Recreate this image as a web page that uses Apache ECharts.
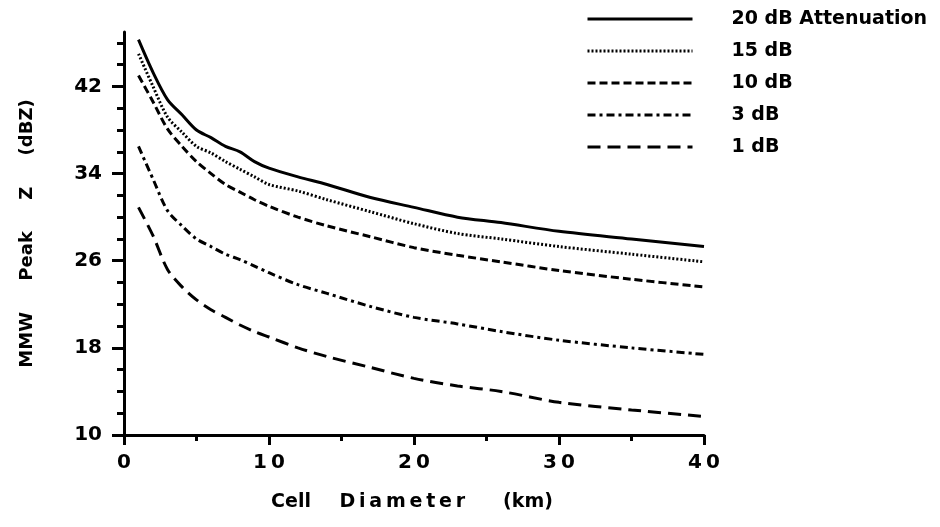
<!DOCTYPE html>
<html>
<head>
<meta charset="utf-8">
<script src="https://cdn.jsdelivr.net/npm/echarts@6/dist/echarts.min.js"></script>
<style>
  html, body { margin: 0; background: #fff; }
  #main { width: 940px; height: 527px; }
</style>
</head>
<body>
<div id="main"></div>
<script>
// cell diameter (km)
var diameter = [1, 2, 3, 4, 5, 6, 7, 8, 9, 10, 12, 14, 17, 20, 23, 26, 30, 35, 40];
// MMW peak Z (dBZ) per attenuation
var att20 = [46.3, 43.3, 40.8, 39.4, 38.0, 37.3, 36.5, 36.0, 35.1, 34.5, 33.7, 33.0, 31.8, 30.9, 30.0, 29.5, 28.7, 28.0, 27.3];
var att15 = [45.0, 42.0, 39.2, 37.8, 36.5, 35.9, 35.1, 34.4, 33.7, 33.0, 32.4, 31.6, 30.5, 29.4, 28.5, 28.0, 27.3, 26.6, 25.9];
var att10 = [43.0, 40.6, 38.1, 36.5, 35.1, 34.0, 33.0, 32.3, 31.6, 31.0, 30.0, 29.2, 28.2, 27.2, 26.5, 25.9, 25.1, 24.3, 23.6];
var att3  = [36.5, 33.5, 30.6, 29.2, 28.0, 27.3, 26.6, 26.1, 25.5, 24.9, 23.8, 23.0, 21.8, 20.8, 20.2, 19.5, 18.7, 18.0, 17.4];
var att1  = [30.9, 28.3, 25.2, 23.6, 22.4, 21.5, 20.8, 20.1, 19.5, 19.0, 18.0, 17.2, 16.2, 15.2, 14.5, 14.0, 13.0, 12.3, 11.7];

var names = ['20 dB Attenuation', '15 dB', '10 dB', '3 dB', '1 dB'];
var yLabels = [10, 18, 26, 34, 42];
var yMinor = [12, 14, 16, 20, 22, 24, 28, 30, 32, 36, 38, 40, 44, 46];

var FONT = 'DejaVu Sans';

function pairs(ys) {
  var out = [];
  for (var i = 0; i < diameter.length; i++) out.push([diameter[i], ys[i]]);
  return out;
}
// wide lettering like the original figure
function spaced(s) {
  return String(s).split('').join('\u2009');
}

function line(name, ys, dash) {
  return {
    name: name,
    type: 'line',
    data: pairs(ys),
    symbol: 'none',
    smooth: 0.3,
    xAxisIndex: 0,
    yAxisIndex: 0,
    lineStyle: { color: '#000', width: 3, type: dash },
    itemStyle: { color: '#000' },
    animation: false
  };
}

var chart = echarts.init(document.getElementById('main'));

var option = {
  backgroundColor: '#fff',
  animation: false,
  grid: { left: 124, right: 236, top: 32, bottom: 92 },
  legend: {
    orient: 'vertical',
    left: 581,
    top: 4,
    itemWidth: 105,
    itemHeight: 20,
    itemGap: 12,
    data: names,
    itemStyle: { opacity: 0 },
    lineStyle: { width: 3 },
    textStyle: {
      fontFamily: FONT,
      fontWeight: 'bold',
      fontSize: 19,
      color: '#000',
      lineHeight: 20,
      padding: [0, 0, 0, 34]
    }
  },
  xAxis: [{
    type: 'value',
    position: 'bottom',
    min: 0,
    max: 40,
    interval: 10,
    splitLine: { show: false },
    axisLine: { lineStyle: { color: '#000', width: 3 } },
    axisTick: { length: 10, lineStyle: { color: '#000', width: 3 } },
    minorTick: { show: true, splitNumber: 2, length: 6, lineStyle: { color: '#000', width: 3 } },
    axisLabel: {
      margin: 18,
      fontFamily: FONT,
      fontWeight: 'bold',
      fontSize: 20,
      color: '#000',
      formatter: function (v) { return spaced(v); }
    },
    name: 'Cell' + '\u2003\u2002' + spaced('Diameter') + '\u2003\u2003' + '(km)',
    nameLocation: 'middle',
    nameGap: 58,
    nameTextStyle: {
      fontFamily: FONT,
      fontWeight: 'bold',
      fontSize: 19,
      color: '#000',
      padding: [0, 4, 0, 0]
    }
  }],
  yAxis: [{
    type: 'value',
    position: 'left',
    min: 10,
    max: 47,
    splitLine: { show: false },
    axisLine: { lineStyle: { color: '#000', width: 3 } },
    axisTick: { customValues: yLabels, length: 12, lineStyle: { color: '#000', width: 3 } },
    axisLabel: {
      customValues: yLabels,
      margin: 22,
      fontFamily: FONT,
      fontWeight: 'bold',
      fontSize: 20,
      color: '#000'
    },
    name: 'MMW     Peak     Z     (dBZ)',
    nameLocation: 'middle',
    nameGap: 88,
    nameTextStyle: {
      fontFamily: FONT,
      fontWeight: 'bold',
      fontSize: 18,
      color: '#000'
    }
  }, {
    type: 'value',
    position: 'left',
    min: 10,
    max: 47,
    splitLine: { show: false },
    axisLine: { show: false },
    axisTick: { customValues: yMinor, length: 7, lineStyle: { color: '#000', width: 3 } },
    axisLabel: { show: false }
  }],
  series: [
    line(names[0], att20, 'solid'),
    line(names[1], att15, [2, 2]),
    line(names[2], att10, [8, 4]),
    line(names[3], att3, [8, 4, 3, 4]),
    line(names[4], att1, [13, 7])
  ]
};

chart.setOption(option);
</script>
</body>
</html>
